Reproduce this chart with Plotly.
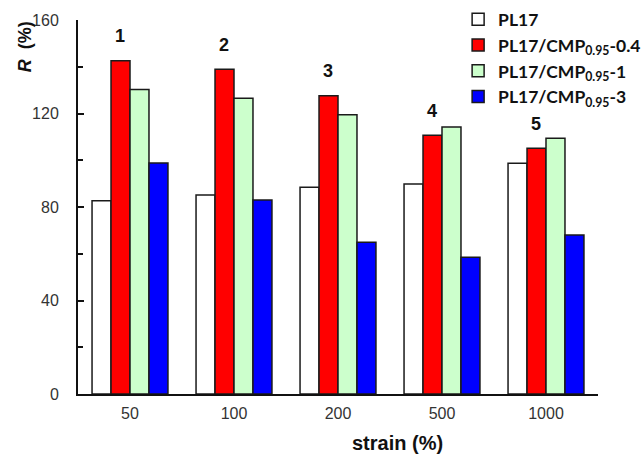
import plotly.graph_objects as go

categories = ["50", "100", "200", "500", "1000"]
series_names = ["PL17", "PL17/CMP<sub>0.95</sub>-0.4", "PL17/CMP<sub>0.95</sub>-1", "PL17/CMP<sub>0.95</sub>-3"]
pl17 = [82.7, 85.1, 88.4, 89.8, 98.7]
cmp_04 = [142.6, 138.9, 127.6, 110.7, 105.1]
cmp_1 = [130.3, 126.5, 119.5, 114.2, 109.4]
cmp_3 = [98.8, 83.0, 64.9, 58.5, 68.0]
group_labels = ["1", "2", "3", "4", "5"]
y_ticks = [0, 40, 80, 120, 160]

colors = ["#FFFFFF", "#FF0000", "#CCFFCC", "#0000FF"]
series = [pl17, cmp_04, cmp_1, cmp_3]

fig = go.Figure()
for i, (name, vals) in enumerate(zip(series_names, series)):
    fig.add_trace(go.Bar(
        x=categories, y=vals, name=name, legendgroup=f"g{i}",
        marker=dict(color=colors[i], line=dict(color="#1a1a1a", width=1.5)),
    ))

# group number labels above the red bars (category index positions)
for idx, (lab, v) in enumerate(zip(group_labels, cmp_04)):
    fig.add_annotation(x=idx, y=v + 10.5, text=lab, showarrow=False, xshift=-10,
                       yanchor="middle",
                       font=dict(family="Liberation Sans", size=18, color="#111", weight="bold"))

# axis titles
fig.add_annotation(xref="paper", yref="paper", x=0.615, y=-0.131, text="strain (%)",
                   showarrow=False, xanchor="center", yanchor="middle",
                   font=dict(family="Liberation Sans", size=20, color="#111", weight="bold"))
fig.add_annotation(xref="paper", yref="paper", x=-0.102, y=0.93, text="<i>R</i>  (%)",
                   showarrow=False, textangle=-90, xanchor="center", yanchor="middle",
                   font=dict(family="Liberation Sans", size=18, color="#111", weight="bold"))

fig.update_layout(
    width=642, height=457, autosize=False,
    margin=dict(l=78, r=44, t=20, b=63, autoexpand=False),
    paper_bgcolor="white", plot_bgcolor="white",
    barmode="group", bargap=0.27, bargroupgap=0,
    legend=dict(x=0.731, y=1.05, xanchor="left", yanchor="top",
                font=dict(family="Lato", size=17.5, color="#111", weight="bold"),
                tracegroupgap=0, bgcolor="rgba(0,0,0,0)"),
    xaxis=dict(type="category", showline=True, linecolor="#111", linewidth=2, ticks="",
               showgrid=False,
               tickfont=dict(family="Liberation Sans", size=16, color="#333"),
               range=[-0.5, 4.5], ticklabelstandoff=4),
    yaxis=dict(range=[0, 160], tickvals=y_ticks, showline=True, linecolor="#111", linewidth=2,
               ticks="inside", ticklen=6, tickwidth=2, tickcolor="#111", showgrid=False,
               zeroline=False,
               minor=dict(ticks="inside", ticklen=5, tickwidth=1.5, tickcolor="#111", dtick=20),
               tickfont=dict(family="Liberation Sans", size=16, color="#333"),
               ticklabelstandoff=14),
)

fig.write_html("out.html")
